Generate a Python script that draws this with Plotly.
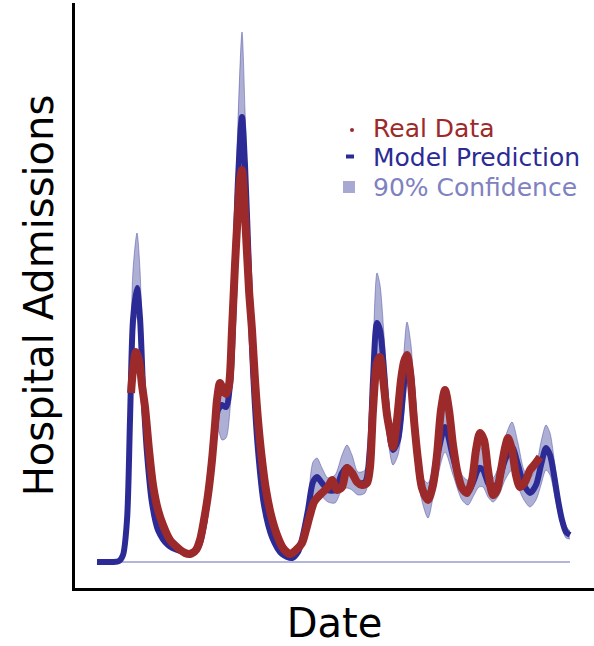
import plotly.graph_objects as go

# ---- data (day index, admissions) ----
model_day = [22,37,44,48,52,55,58,62,65,68,72,77,83,93,105,115,123,129,134,139,143,147,151,155,159,163,167,170,174,178,183,189,197,207,217,223,228,233,238,242,247,253,260,267,272,277,283,290,295,298,302,305,309,313,318,323,328,332,336,341,346,353,358,363,370,378,387,393,399,404,408,413,418,424,430,437,443,449,455,461,466,471,475,479,483,487,491,495]
model_pred = [0,0,1,7,42,142,242,274,244,175,109,59,32,17,11,9,14,37,77,122,152,157,155,177,262,382,445,397,292,192,112,57,25,8,4,10,27,52,80,85,79,72,72,89,95,89,79,80,115,182,239,232,192,142,112,122,167,207,187,122,77,62,82,109,135,105,75,70,82,94,92,79,72,82,102,115,97,77,69,77,97,114,107,87,62,42,30,27]
ci_upper = [0,0,2,10,57,172,292,329,292,192,117,64,35,19,13,11,17,42,84,134,167,174,172,197,302,442,530,452,327,212,122,62,28,10,6,13,32,62,100,104,94,84,87,107,117,107,90,92,132,212,289,277,227,167,127,137,197,240,217,137,87,79,100,132,162,122,87,82,100,117,110,92,84,97,124,140,119,92,84,95,120,137,129,104,74,50,36,31]
ci_lower = [0,0,0,4,32,122,217,247,222,162,102,54,29,15,9,7,11,32,67,107,132,122,124,152,232,332,372,347,262,172,102,52,22,6,2,7,22,42,62,67,65,60,59,72,74,72,67,69,100,157,202,197,162,122,97,107,142,177,162,107,65,44,64,87,110,87,62,57,67,75,75,65,60,67,82,92,75,62,55,62,77,92,87,70,50,34,24,23]

real_day = [56,58,61,64,67,70,74,78,83,88,95,103,110,115,121,125,129,133,137,140,142,145,148,151,154,157,160,163,165,167,170,174,177,180,183,187,191,196,202,208,215,221,227,231,235,239,243,248,253,257,262,267,272,277,282,287,292,295,298,302,305,308,312,315,318,322,326,329,332,335,339,343,347,353,358,362,366,370,374,378,383,387,392,397,401,405,409,413,418,422,426,430,433,437,441,445,450,455,460,465]
real_data = [169,192,210,202,177,155,112,77,52,37,22,14,9,8,12,22,42,67,102,137,162,179,172,168,177,232,297,352,382,392,347,272,232,182,142,102,72,47,27,14,8,12,19,32,47,60,65,70,75,82,72,75,94,89,80,77,79,95,152,199,205,184,147,130,115,142,182,200,207,190,142,102,74,62,77,107,152,172,152,117,87,74,69,82,112,129,122,92,67,72,92,114,124,112,87,75,80,92,98,105]

labels = ["Real Data", "Model Prediction", "90% Confidence"]

RED = "#9c2a2a"
BLUE = "#2c2b95"
BAND = "rgba(62,64,155,0.42)"
BAND_EDGE = "rgba(62,64,155,0.45)"
LEG_BAND = "#8081c0"
LEG_SQ = "#a8a9d2"
FONT = "DejaVu Sans"

W, H = 594, 646
ML, MR, MT, MB = 75, 0, 3, 58
PW, PH = W - ML - MR, H - MT - MB


def px(x):
    return (x - ML) / PW


def py(y):
    return (H - MB - y) / PH


fig = go.Figure()

# baseline
fig.add_trace(go.Scatter(x=[model_day[0], model_day[-1]], y=[0, 0], mode="lines",
                         line=dict(color="#b4b5da", width=2), showlegend=False, hoverinfo="skip"))

# confidence band
fig.add_trace(go.Scatter(x=model_day, y=ci_upper, mode="lines",
                         line=dict(color=BAND_EDGE, width=1, shape="spline", smoothing=0.8),
                         showlegend=False, hoverinfo="skip"))
fig.add_trace(go.Scatter(x=model_day, y=ci_lower, mode="lines", fill="tonexty", fillcolor=BAND,
                         line=dict(color=BAND_EDGE, width=1, shape="spline", smoothing=0.8),
                         name=labels[2], showlegend=False, hoverinfo="skip"))

# model prediction
fig.add_trace(go.Scatter(x=model_day, y=model_pred, mode="lines", name=labels[1],
                         line=dict(color=BLUE, width=6, shape="spline", smoothing=0.8),
                         showlegend=False))

# real data
fig.add_trace(go.Scatter(x=real_day, y=real_data, mode="lines", name=labels[0],
                         line=dict(color=RED, width=8, shape="spline", smoothing=0.8),
                         showlegend=False))

# hand-placed legend (tight line spacing like the original)
leg_rows = [(labels[0], RED, 128.5), (labels[1], BLUE, 158), (labels[2], LEG_BAND, 187.5)]
annotations = []
for text, col, yc in leg_rows:
    annotations.append(dict(x=px(371), y=py(yc), xref="paper", yref="paper",
                            text=text, showarrow=False, xanchor="left", yanchor="middle",
                            font=dict(family=FONT, size=25, color=col)))

shapes = [
    dict(type="circle", xref="paper", yref="paper", x0=px(350), x1=px(354), y0=py(132), y1=py(128),
         fillcolor=RED, line=dict(width=0)),
    dict(type="rect", xref="paper", yref="paper", x0=px(346), x1=px(354), y0=py(158.5), y1=py(154.5),
         fillcolor=BLUE, line=dict(width=0)),
    dict(type="rect", xref="paper", yref="paper", x0=px(343), x1=px(355), y0=py(193), y1=py(181),
         fillcolor=LEG_SQ, line=dict(width=0)),
]

fig.update_layout(
    width=W, height=H,
    margin=dict(l=ML, r=MR, t=MT, b=MB),
    plot_bgcolor="white", paper_bgcolor="white",
    font=dict(family=FONT, color="black"),
    showlegend=False,
    annotations=annotations,
    shapes=shapes,
    xaxis=dict(range=[0, 519], showline=True, linecolor="black", linewidth=3,
               showticklabels=False, ticks="", showgrid=False, zeroline=False,
               title=dict(text="Date", font=dict(size=40, family=FONT), standoff=30)),
    yaxis=dict(range=[-26, 559], showline=True, linecolor="black", linewidth=3,
               showticklabels=False, ticks="", showgrid=False, zeroline=False,
               title=dict(text="Hospital Admissions", font=dict(size=40, family=FONT), standoff=7)),
)

fig.write_html("out.html", config={"displayModeBar": False},
               post_script="document.body.style.margin='0';")
